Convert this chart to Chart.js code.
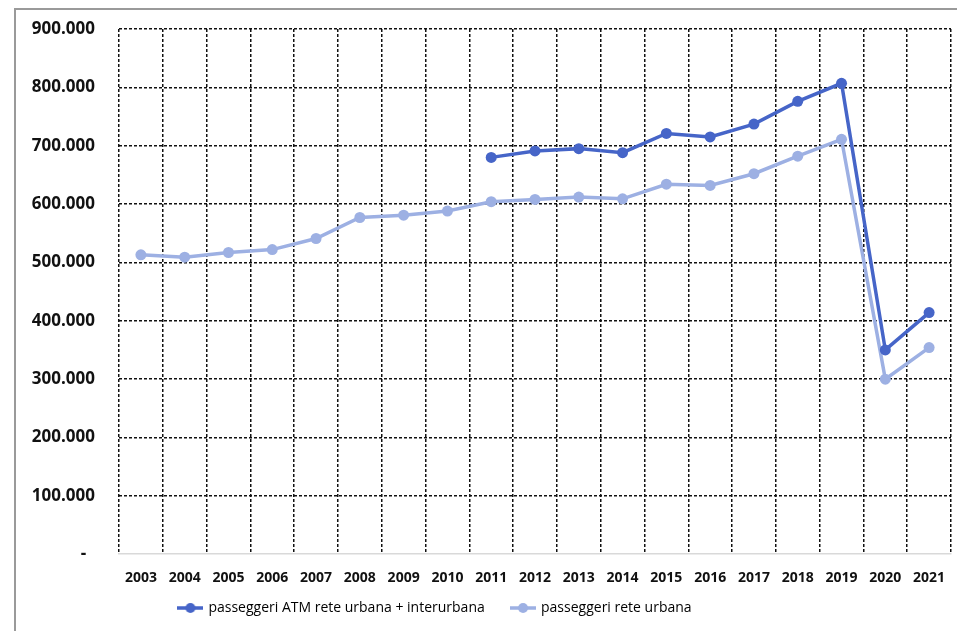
<!DOCTYPE html>
<html>
<head>
<meta charset="utf-8">
<script src="https://cdn.jsdelivr.net/npm/chart.js@4.4.1/dist/chart.umd.min.js"></script>
<style>
  html, body { margin: 0; padding: 0; background: #ffffff; }
  #wrap { width: 957px; height: 631px; position: relative; }
</style>
</head>
<body>
<div id="wrap"><canvas id="c" width="957" height="631"></canvas></div>
<script>
const years = ['2003','2004','2005','2006','2007','2008','2009','2010','2011','2012','2013','2014','2015','2016','2017','2018','2019','2020','2021'];
const atmUrbanaInterurbana = [null, null, null, null, null, null, null, null, 680000, 691000, 695000, 688000, 721000, 715000, 737000, 776000, 807000, 350000, 414000];
const reteUrbana = [513000, 509000, 517000, 522000, 541000, 577000, 581000, 588000, 604000, 608000, 612000, 609000, 634000, 632000, 652000, 682000, 711000, 300000, 354000];
const seriesNames = ['passeggeri ATM rete urbana + interurbana', 'passeggeri rete urbana'];
const yTicks = [0, 100000, 200000, 300000, 400000, 500000, 600000, 700000, 800000, 900000];

const darkColor = '#4665c8';
const lightColor = '#9db0e3';

function fmt(v) {
  if (v === 0) return '-  ';
  const s = String(Math.round(v));
  return s.replace(/\B(?=(\d{3})+(?!\d))/g, '.');
}

function markerCanvas(color) {
  const cv = document.createElement('canvas');
  cv.width = 26; cv.height = 12;
  const g = cv.getContext('2d');
  g.strokeStyle = color; g.lineWidth = 3.5;
  g.beginPath(); g.moveTo(0, 6); g.lineTo(26, 6); g.stroke();
  g.fillStyle = color;
  g.beginPath(); g.arc(13, 6, 5, 0, Math.PI * 2); g.fill();
  return cv;
}
const markers = [markerCanvas(darkColor), markerCanvas(lightColor)];

const framePlugin = {
  id: 'frame',
  beforeDraw(chart) {
    const ctx = chart.ctx;
    ctx.save();
    ctx.fillStyle = '#ffffff';
    ctx.fillRect(0, 0, chart.width, chart.height);
    ctx.strokeStyle = '#9a9a9a';
    ctx.lineWidth = 2;
    ctx.strokeRect(15, 9, 960, 640);
    ctx.restore();
  },
  afterLayout(chart) {
    const lg = chart.legend;
    if (!lg) return;
    const targetTop = 608 - 6 - 7;
    const dy = targetTop - lg.top;
    lg.top += dy; lg.bottom += dy;
    lg.left -= 47; lg.right -= 47;
  }
};

new Chart(document.getElementById('c'), {
  type: 'line',
  data: {
    labels: years,
    datasets: [
      {
        label: seriesNames[0],
        data: atmUrbanaInterurbana,
        borderColor: darkColor,
        backgroundColor: darkColor,
        borderWidth: 3.5,
        pointRadius: 5.5,
        pointBorderWidth: 0,
        pointBackgroundColor: darkColor,
        tension: 0,
        spanGaps: false
      },
      {
        label: seriesNames[1],
        data: reteUrbana,
        borderColor: lightColor,
        backgroundColor: lightColor,
        borderWidth: 3.5,
        pointRadius: 5.5,
        pointBorderWidth: 0,
        pointBackgroundColor: lightColor,
        tension: 0
      }
    ]
  },
  options: {
    responsive: false,
    animation: false,
    devicePixelRatio: 1,
    layout: { padding: { left: 14, right: 6, top: 29, bottom: 0 } },
    plugins: {
      tooltip: { enabled: false },
      legend: {
        position: 'bottom',
        labels: {
          usePointStyle: true,
          pointStyleWidth: 22,
          padding: 6,
          color: '#111111',
          font: { family: 'Open Sans', size: 14 },
          generateLabels(chart) {
            return chart.data.datasets.map((ds, i) => ({
              text: i === 0 ? ds.label + '\u2003  ' : ds.label,
              fillStyle: ds.borderColor,
              strokeStyle: ds.borderColor,
              lineWidth: 0,
              pointStyle: markers[i],
              hidden: false,
              datasetIndex: i
            }));
          }
        }
      }
    },
    scales: {
      x: {
        offset: true,
        afterFit(scale) { scale.paddingLeft = 0; scale.paddingRight = 0; },
        grid: {
          offset: true,
          drawTicks: false,
          color: '#111111',
          lineWidth: 1.5
        },
        border: { display: true, color: '#d9d9d9', width: 1.5, dash: [3, 2] },
        ticks: {
          padding: 15,
          color: '#111111',
          font: { family: 'Open Sans', size: 14, weight: 'bold' },
          maxRotation: 0,
          autoSkip: false
        }
      },
      y: {
        min: 0,
        max: 900000,
        afterBuildTicks(scale) { scale.ticks = yTicks.map(v => ({ value: v })); },
        afterFit(scale) { scale.width = 105; scale.paddingTop = 10; scale.paddingBottom = 10; },
        grid: {
          drawTicks: false,
          color: ctx => (ctx.tick && ctx.tick.value === 0) ? 'rgba(0,0,0,0)' : '#111111',
          lineWidth: 1.5
        },
        border: { display: false, dash: [3, 2] },
        ticks: {
          padding: 24,
          color: '#111111',
          font: { family: 'Open Sans', size: 17, weight: 'bold' },
          callback: v => fmt(v)
        }
      }
    }
  },
  plugins: [framePlugin]
});
</script>
</body>
</html>
